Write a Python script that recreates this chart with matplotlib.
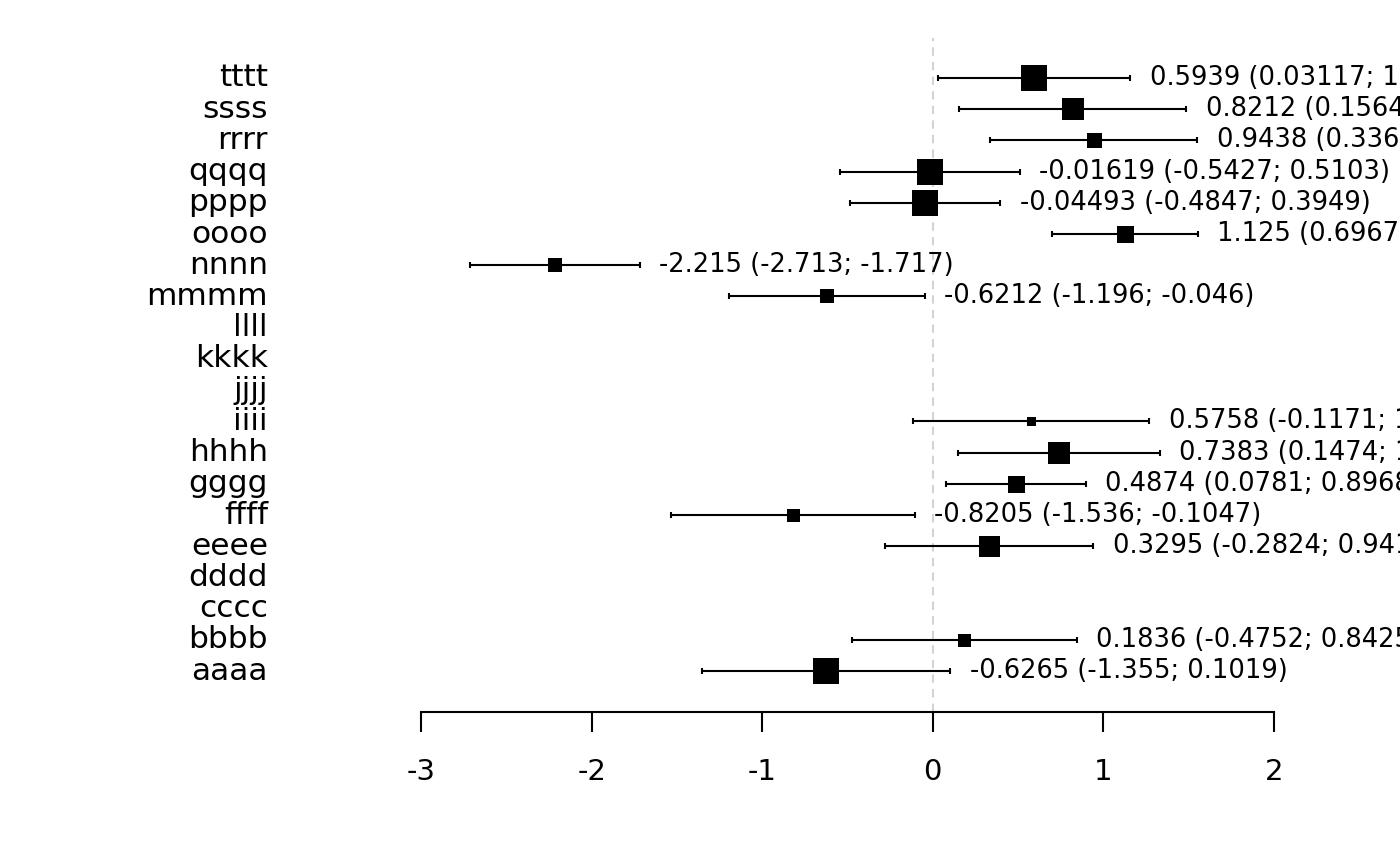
import numpy as np
import matplotlib
matplotlib.use("Agg")
import matplotlib.pyplot as plt
import matplotlib.transforms as mtransforms

# ---- data (bottom to top) ----
labels = ["aaaa", "bbbb", "cccc", "dddd", "eeee", "ffff", "gggg", "hhhh", "iiii", "jjjj",
          "kkkk", "llll", "mmmm", "nnnn", "oooo", "pppp", "qqqq", "rrrr", "ssss", "tttt"]
est   = [-0.6265, 0.1836, np.nan, np.nan, 0.3295, -0.8205, 0.4874, 0.7383, 0.5758, np.nan,
         np.nan, np.nan, -0.6212, -2.215, 1.125, -0.04493, -0.01619, 0.9438, 0.8212, 0.5939]
lower = [-1.355, -0.4752, np.nan, np.nan, -0.2824, -1.536, 0.0781, 0.1474, -0.1171, np.nan,
         np.nan, np.nan, -1.196, -2.713, 0.6967, -0.4847, -0.5427, 0.3364, 0.1564, 0.03117]
upper = [0.1019, 0.8425, np.nan, np.nan, 0.9414, -0.1047, 0.8968, 1.329, 1.269, np.nan,
         np.nan, np.nan, -0.046, -1.717, 1.553, 0.3949, 0.5103, 1.551, 1.486, 1.157]
est_txt   = ["-0.6265", "0.1836", "", "", "0.3295", "-0.8205", "0.4874", "0.7383", "0.5758", "",
             "", "", "-0.6212", "-2.215", "1.125", "-0.04493", "-0.01619", "0.9438", "0.8212", "0.5939"]
lower_txt = ["-1.355", "-0.4752", "", "", "-0.2824", "-1.536", "0.0781", "0.1474", "-0.1171", "",
             "", "", "-1.196", "-2.713", "0.6967", "-0.4847", "-0.5427", "0.3364", "0.1564", "0.03117"]
upper_txt = ["0.1019", "0.8425", "", "", "0.9414", "-0.1047", "0.8968", "1.329", "1.269", "",
             "", "", "-0.046", "-1.717", "1.553", "0.3949", "0.5103", "1.551", "1.486", "1.157"]
weights = [27, 13, np.nan, np.nan, 21, 13, 17, 23, 9, np.nan,
           np.nan, np.nan, 14, 14, 17, 26, 26, 15, 23, 27]
xticks = [-3, -2, -1, 0, 1, 2]

W, H = 1400, 866
fig = plt.figure(figsize=(W / 100, H / 100), dpi=100)
ax = fig.add_axes([421 / W, (H - 712) / H, (1274 - 421) / W, (712 - 38) / H])
ax.set_xlim(-3, 2)
ax.set_ylim(-0.31, 21.28)

ys = np.arange(1, len(labels) + 1)

ax.axvline(0, color="#d3d3d3", lw=1.5, ls=(0, (4, 3)), zorder=0)

for y, e, lo, up, w, et, lt, ut in zip(ys, est, lower, upper, weights, est_txt, lower_txt, upper_txt):
    if np.isnan(e):
        continue
    ax.plot([lo, up], [y, y], color="black", lw=1.5, solid_capstyle="butt", clip_on=False)
    ax.plot([lo, up], [y, y], ls="none", marker="|", ms=5, mew=1.5, color="black", clip_on=False)
    ax.plot([e], [y], marker="s", ms=w * 0.72, color="black", mew=0, clip_on=False)
    ax.annotate(f"{et} ({lt}; {ut})", xy=(up, y), xytext=(14, 0), textcoords="offset points",
                ha="left", va="center", fontsize=18.5, color="black", annotation_clip=False)

trans = mtransforms.blended_transform_factory(fig.transFigure, ax.transData)
for y, lab in zip(ys, labels):
    ax.text(268 / W, y, lab, transform=trans, ha="right", va="center", fontsize=22.5, color="black")

for s in ["top", "left", "right"]:
    ax.spines[s].set_visible(False)
ax.spines["bottom"].set_linewidth(1.5)
ax.set_yticks([])
ax.set_xticks(xticks)
ax.set_xticklabels([str(t) for t in xticks])
ax.tick_params(axis="x", direction="out", length=14.4, width=1.5, pad=19, labelsize=21)

fig.savefig("out.png", dpi=100)
